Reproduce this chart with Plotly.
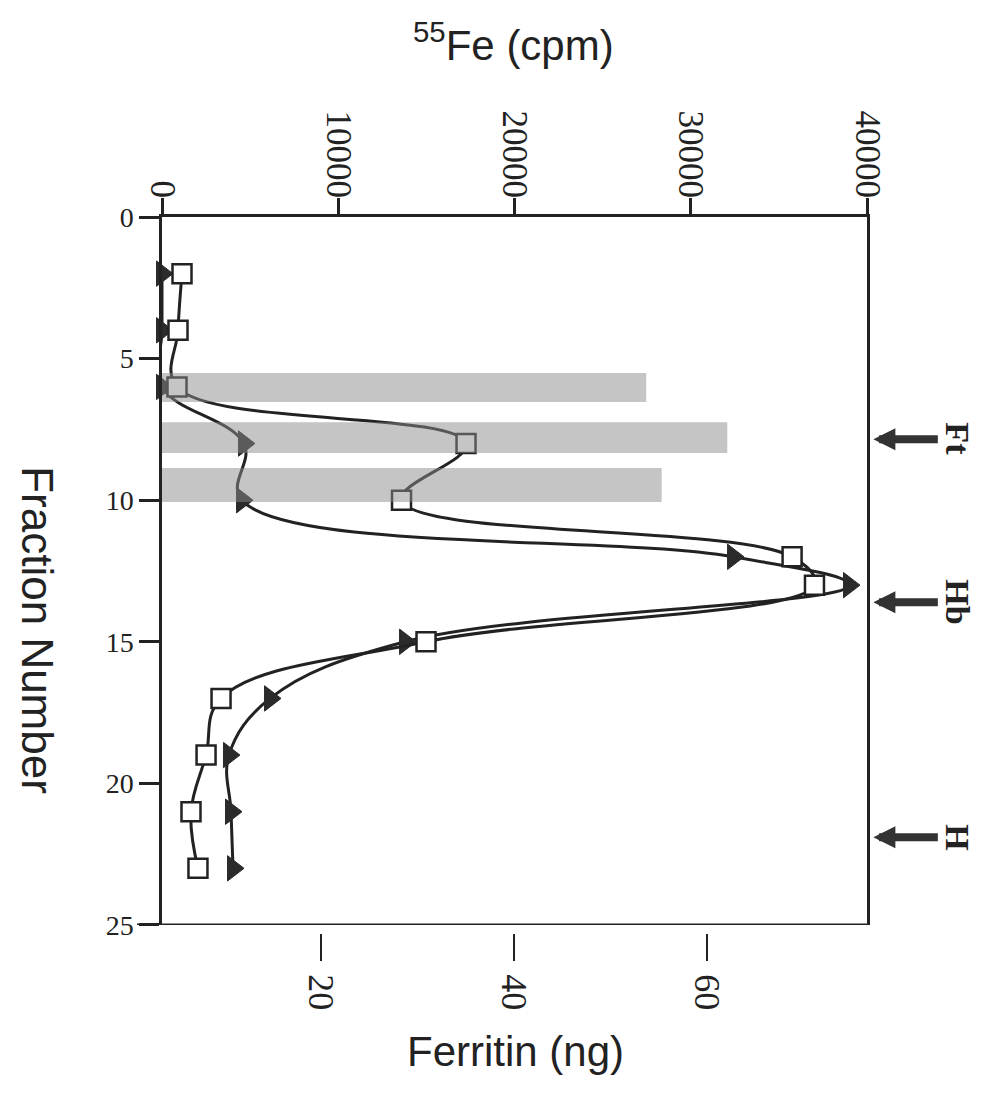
import plotly.graph_objects as go

# Fraction numbers sampled along the column
fractions = [2, 4, 6, 8, 10, 12, 13, 15, 17, 19, 21, 23]

# 55Fe counts (cpm) for the two profiles
fe_triangles = [0, 0, 0, 4650, 4540, 32400, 38980, 13790, 6130, 3800, 3915, 4030]
fe_squares = [1135, 908, 851, 17250, 13590, 35750, 37020, 14980, 3350, 2500, 1645, 2040]

# Ferritin (ng) measured in the pooled fractions
ferritin_fraction = [6.02, 7.79, 9.46]
ferritin_ng = [53.7, 62.1, 55.3]
ferritin_width = [1.02, 1.09, 1.2]

# Elution positions of the reference proteins
marker_names = ["Ft", "Hb", "H"]
marker_fraction = [7.85, 13.6, 21.9]

fe_ticks = [0, 10000, 20000, 30000, 40000]
ferritin_ticks = [20, 40, 60]
fraction_ticks = [0, 5, 10, 15, 20, 25]

INK = "#222222"
SERIF = "Liberation Serif, Times New Roman, serif"
SANS = "Liberation Sans, Arial, Helvetica, sans-serif"

fig = go.Figure()

fig.add_trace(go.Scatter(
    x=fe_triangles, y=fractions, xaxis="x", yaxis="y",
    mode="lines+markers",
    line=dict(color=INK, width=3, shape="spline", smoothing=1.1),
    marker=dict(symbol="triangle-right", size=22, color="#2b2b2b",
                line=dict(color="#2b2b2b", width=1)),
    cliponaxis=False, showlegend=False,
))
fig.add_trace(go.Scatter(
    x=fe_squares, y=fractions, xaxis="x", yaxis="y",
    mode="lines+markers",
    line=dict(color=INK, width=3, shape="spline", smoothing=1.1),
    marker=dict(symbol="square", size=19, color="white",
                line=dict(color=INK, width=2.5)),
    cliponaxis=False, showlegend=False,
))
fig.add_trace(go.Bar(
    x=ferritin_ng, y=ferritin_fraction, width=ferritin_width,
    orientation="h", xaxis="x2", yaxis="y",
    marker=dict(color="rgba(140,140,140,0.5)", line=dict(width=0)),
    showlegend=False,
))

annotations = []
for name, frac in zip(marker_names, marker_fraction):
    annotations.append(dict(
        x=1.009, y=frac, xref="paper", yref="y",
        ax=66, ay=0, axref="pixel", ayref="pixel",
        text="", showarrow=True, arrowhead=2, arrowsize=0.55,
        arrowwidth=8, arrowcolor="#333333", standoff=0,
    ))
    annotations.append(dict(
        x=1.129, y=frac, xref="paper", yref="y",
        xanchor="center", yanchor="middle",
        text=f"<b>{name}</b>", showarrow=False, textangle=90,
        font=dict(family=SERIF, size=34, color=INK),
    ))

annotations += [
    dict(x=0.499, y=1.244, xref="paper", yref="paper",
         xanchor="center", yanchor="middle",
         text="<sup>55</sup>Fe (cpm)", showarrow=False,
         font=dict(family=SANS, size=42, color=INK)),
    dict(x=0.502, y=-0.166, xref="paper", yref="paper",
         xanchor="center", yanchor="middle",
         text="Ferritin (ng)", showarrow=False,
         font=dict(family=SANS, size=42, color=INK)),
    dict(x=-0.176, y=0.423, xref="paper", yref="paper",
         xanchor="center", yanchor="middle",
         text="Fraction Number", showarrow=False, textangle=90,
         font=dict(family=SANS, size=44, color=INK)),
]

fig.update_layout(
    width=990, height=1093,
    margin=dict(l=162, r=123, t=217, b=160),
    paper_bgcolor="white", plot_bgcolor="white",
    barmode="overlay",
    xaxis=dict(
        side="top", anchor="y", range=[0, 40000],
        tickvals=fe_ticks, ticktext=[str(v) for v in fe_ticks],
        tickangle=90, ticks="outside", ticklen=16, tickwidth=2.5, tickcolor=INK,
        ticklabelstandoff=-12,
        showline=True, linewidth=2.5, linecolor=INK,
        showgrid=False, zeroline=False,
        tickfont=dict(family=SERIF, size=35, color=INK),
    ),
    xaxis2=dict(
        overlaying="x", side="bottom", anchor="free", position=0,
        range=[3.52, 76.58],
        tickvals=ferritin_ticks, ticktext=[str(v) for v in ferritin_ticks],
        tickangle=90, ticks="outside", ticklen=27, tickwidth=2, tickcolor=INK,
        ticklabelstandoff=6,
        showline=False, showgrid=False, zeroline=False,
        tickfont=dict(family=SERIF, size=36, color=INK),
    ),
    yaxis=dict(
        domain=[0.0112, 1], range=[25, 0],
        tickvals=fraction_ticks, ticktext=[str(v) for v in fraction_ticks],
        ticks="outside", ticklen=20, tickwidth=2.5, tickcolor=INK,
        showline=True, linewidth=2.5, linecolor=INK, mirror=True,
        showgrid=False, zeroline=False,
        tickfont=dict(family=SERIF, size=28, color=INK),
    ),
    annotations=annotations,
    shapes=[dict(type="line", xref="paper", yref="y",
                 x0=-0.0355, x1=1.0, y0=25, y1=25,
                 line=dict(color=INK, width=3))],
)

fig.write_html("out.html")
